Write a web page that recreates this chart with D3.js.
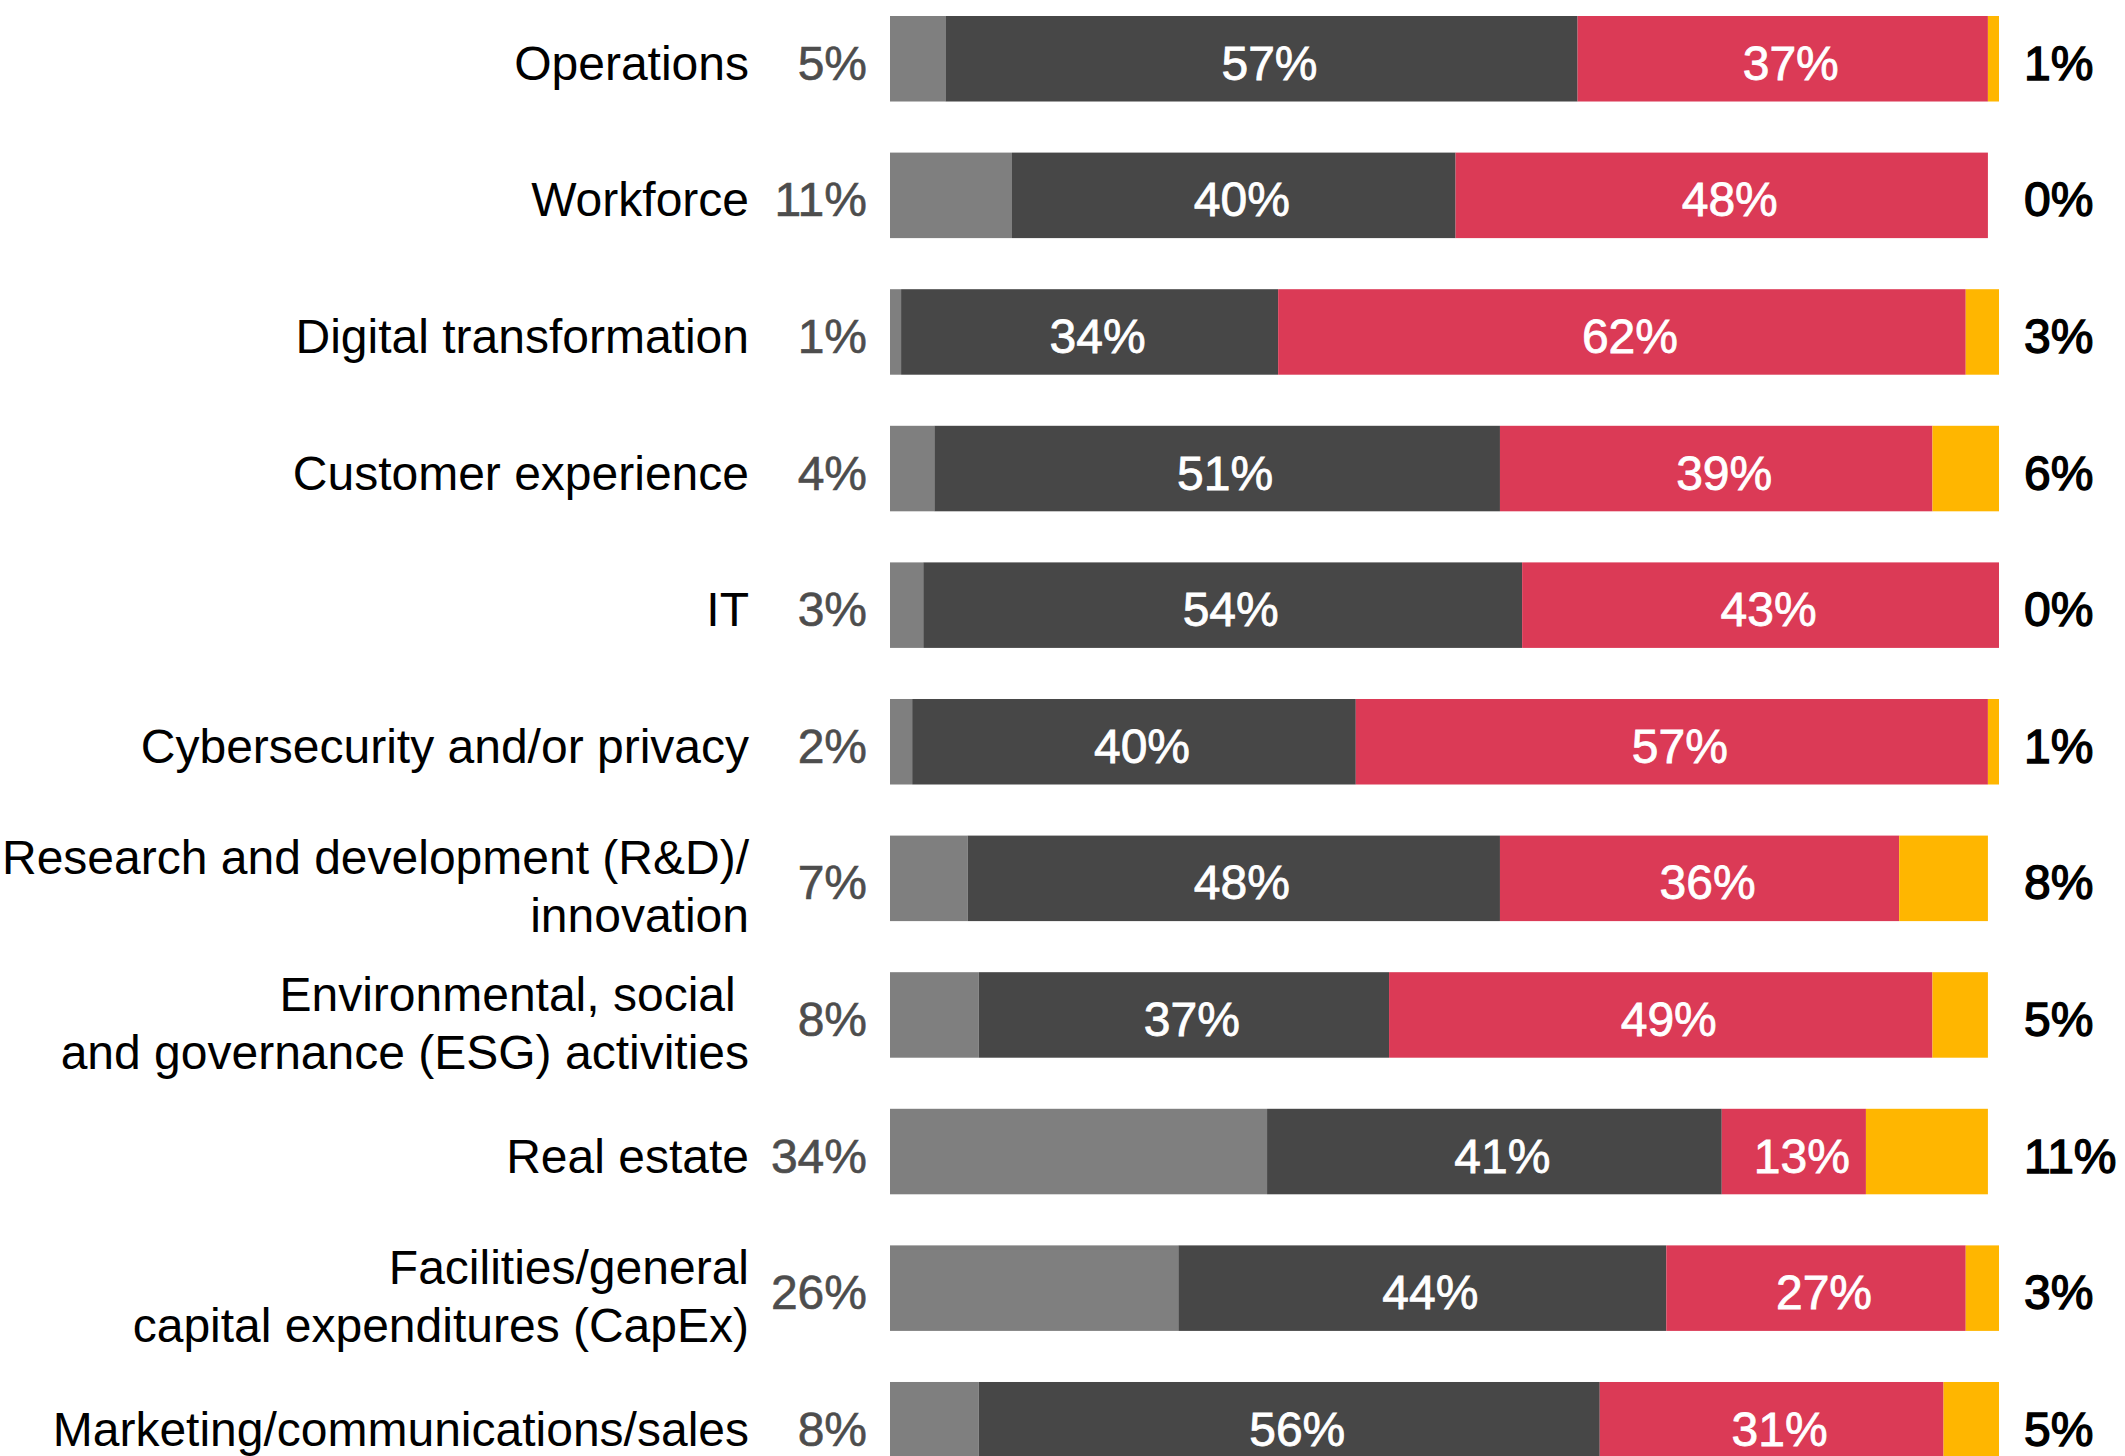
<!DOCTYPE html>
<html>
<head>
<meta charset="utf-8">
<script src="https://cdn.jsdelivr.net/npm/d3@7"></script>
<style>
    html, body { margin: 0; padding: 0; background: #fff; }
    svg text { font-family: "Liberation Sans", Arial, Helvetica, sans-serif; }
</style>
</head>
<body>
<script>
const categories = [
    ["Operations"],
    ["Workforce"],
    ["Digital transformation"],
    ["Customer experience"],
    ["IT"],
    ["Cybersecurity and/or privacy"],
    ["Research and development (R&D)/", "innovation"],
    ["Environmental, social ", "and governance (ESG) activities"],
    ["Real estate"],
    ["Facilities/general", "capital expenditures (CapEx)"],
    ["Marketing/communications/sales"]
];

// four answer groups, left to right
const greyValues   = [5, 11, 1, 4, 3, 2, 7, 8, 34, 26, 8];
const darkValues   = [57, 40, 34, 51, 54, 40, 48, 37, 41, 44, 56];
const redValues    = [37, 48, 62, 39, 43, 57, 36, 49, 13, 27, 31];
const yellowValues = [1, 0, 3, 6, 0, 1, 8, 5, 11, 3, 5];

const keys = ["grey", "dark", "red", "yellow"];
const colours = {grey: "#7f7f7f", dark: "#474747", red: "#db3a56", yellow: "#ffb600"};

function renderBars() {

    let w = 2125,
        h = 1456;

    let rows = categories.map(function (lines, i) {
        return {
            id: i,
            lines: lines,
            grey: greyValues[i],
            dark: darkValues[i],
            red: redValues[i],
            yellow: yellowValues[i]
        };
    });

    let svg = d3.select("body").append("svg")
        .attr("width", w)
        .attr("height", h);

    svg.append("rect")
        .attr("width", w)
        .attr("height", h)
        .attr("fill", "#fff");

    let x = d3.scaleLinear()
        .domain([0, 100])
        .range([890, 1999]);

    let y = d3.scaleBand()
        .domain(rows.map(function (d) { return d.id; }))
        .range([16, 16 + 10 * 136.6 + 85.5])
        .paddingInner(0.374)
        .paddingOuter(0);

    let stacked = d3.stack().keys(keys)(rows);

    //segments
    let layers = svg.append("g")
        .attr("class", "layers")
        .selectAll("g")
        .data(stacked)
        .enter()
        .append("g")
        .attr("fill", function (d) { return colours[d.key]; });

    layers.selectAll("rect")
        .data(function (d) { return d; })
        .enter()
        .filter(function (d) { return d[1] - d[0] > 0; })
        .append("rect")
        .attr("x", function (d) { return x(d[0]); })
        .attr("y", function (d) { return y(d.data.id); })
        .attr("width", function (d) { return x(d[1]) - x(d[0]); })
        .attr("height", y.bandwidth());

    let mid = function (d) { return y(d.id) + y.bandwidth() / 2; };

    //labels inside dark and red segments
    svg.append("g")
        .attr("class", "inner")
        .selectAll("g")
        .data(stacked.filter(function (s) { return s.key === "dark" || s.key === "red"; }))
        .enter()
        .append("g")
        .selectAll("text")
        .data(function (d) { return d; })
        .enter()
        .append("text")
        .attr("x", function (d) { return (x(d[0]) + x(d[1])) / 2 + 8; })
        .attr("y", function (d) { return mid(d.data) + 21; })
        .attr("text-anchor", "middle")
        .attr("font-size", 48)
        .attr("fill", "#fff")
        .attr("stroke", "#fff")
        .attr("stroke-width", 0.8)
        .text(function (d) { return (d[1] - d[0]) + "%"; });

    //category names
    svg.append("g")
        .attr("class", "names")
        .selectAll("text")
        .data(rows)
        .enter()
        .append("text")
        .attr("text-anchor", "end")
        .attr("font-size", 48)
        .attr("fill", "#000")
        .attr("xml:space", "preserve")
        .each(function (d) {
            let n = d.lines.length;
            let base = mid(d) + 21 - (n - 1) * 25;
            d3.select(this).selectAll("tspan")
                .data(d.lines)
                .enter()
                .append("tspan")
                .attr("x", 749)
                .attr("y", function (l, j) { return base + j * 58; })
                .text(function (l) { return l; });
        });

    //left values
    svg.append("g")
        .attr("class", "leftvals")
        .selectAll("text")
        .data(rows)
        .enter()
        .append("text")
        .attr("x", 867)
        .attr("y", function (d) { return mid(d) + 21; })
        .attr("text-anchor", "end")
        .attr("font-size", 48)
        .attr("fill", "#4d4d4d")
        .attr("stroke", "#4d4d4d")
        .attr("stroke-width", 0.6)
        .text(function (d) { return d.grey + "%"; });

    //right values
    svg.append("g")
        .attr("class", "rightvals")
        .selectAll("text")
        .data(rows)
        .enter()
        .append("text")
        .attr("x", 2024)
        .attr("y", function (d) { return mid(d) + 21; })
        .attr("font-size", 48)
        .attr("fill", "#000")
        .attr("stroke", "#000")
        .attr("stroke-width", 1.4)
        .text(function (d) { return d.yellow + "%"; });
}

renderBars();
</script>
</body>
</html>
